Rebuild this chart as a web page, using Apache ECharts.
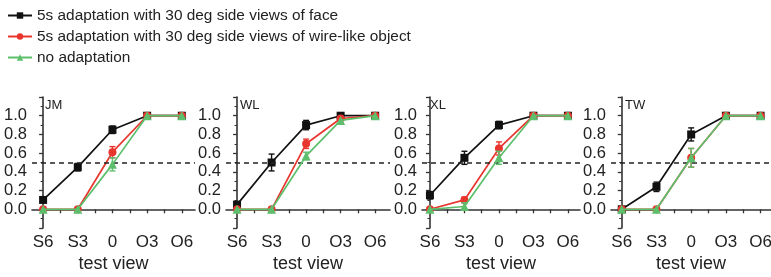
<!DOCTYPE html>
<html>
<head>
<meta charset="utf-8">
<script src="https://cdn.jsdelivr.net/npm/echarts@6/dist/echarts.min.js"></script>
<style>
  html, body { margin: 0; padding: 0; background: #fff; }
  #container { width: 771px; height: 277px; }
</style>
</head>
<body>
<div id="container"></div>
<script>
// test views on the x axis
var views = ['S6', 'S3', '0', 'O3', 'O6'];
var subjects = ['JM', 'WL', 'XL', 'TW'];
var seriesNames = [
    '5s adaptation with 30 deg side views of face',
    '5s adaptation with 30 deg side views of wire-like object',
    'no adaptation'
];

// proportion values per subject
var faceJM = [0.10, 0.45, 0.85, 1.00, 1.00];
var wireJM = [0.00, 0.00, 0.61, 1.00, 1.00];
var noneJM = [0.00, 0.00, 0.48, 1.00, 1.00];
var faceWL = [0.05, 0.50, 0.90, 1.00, 1.00];
var wireWL = [0.00, 0.00, 0.70, 0.97, 1.00];
var noneWL = [0.00, 0.00, 0.57, 0.95, 1.00];
var faceXL = [0.15, 0.55, 0.90, 1.00, 1.00];
var wireXL = [0.00, 0.10, 0.65, 1.00, 1.00];
var noneXL = [0.00, 0.03, 0.55, 1.00, 1.00];
var faceTW = [0.00, 0.24, 0.80, 1.00, 1.00];
var wireTW = [0.00, 0.00, 0.55, 1.00, 1.00];
var noneTW = [0.00, 0.00, 0.55, 1.00, 1.00];

// error bar half-lengths
var faceErrJM = [0.00, 0.04, 0.04, 0.00, 0.00];
var wireErrJM = [0.00, 0.00, 0.06, 0.00, 0.00];
var noneErrJM = [0.00, 0.00, 0.07, 0.00, 0.00];
var faceErrWL = [0.02, 0.09, 0.05, 0.00, 0.00];
var wireErrWL = [0.00, 0.00, 0.05, 0.00, 0.00];
var noneErrWL = [0.00, 0.00, 0.04, 0.00, 0.00];
var faceErrXL = [0.04, 0.07, 0.04, 0.00, 0.00];
var wireErrXL = [0.00, 0.03, 0.07, 0.00, 0.00];
var noneErrXL = [0.00, 0.04, 0.07, 0.00, 0.00];
var faceErrTW = [0.00, 0.05, 0.07, 0.00, 0.00];
var wireErrTW = [0.00, 0.00, 0.10, 0.00, 0.00];
var noneErrTW = [0.00, 0.00, 0.10, 0.00, 0.00];

var values = [
    [faceJM, wireJM, noneJM],
    [faceWL, wireWL, noneWL],
    [faceXL, wireXL, noneXL],
    [faceTW, wireTW, noneTW]
];
var errors = [
    [faceErrJM, wireErrJM, noneErrJM],
    [faceErrWL, wireErrWL, noneErrWL],
    [faceErrXL, wireErrXL, noneErrXL],
    [faceErrTW, wireErrTW, noneErrTW]
];

var colors = ['#111111', '#e8362f', '#5dbf6c'];
var symbols = ['rect', 'circle', 'triangle'];
var font = 'Liberation Sans, Arial, sans-serif';

// panel geometry
var gridLeft = [32, 226, 422, 611];
var gridWidth = [163, 164, 158, 160];
var xMin = [-0.32, -0.32, -0.23, -0.31];
var xMax = [4.38, 4.43, 4.35, 4.3];
var titleOffset = [8, 9, 3, 9];

var grids = [], xAxes = [], yAxes = [], series = [], titles = [];

for (var p = 0; p < subjects.length; p++) {
    grids.push({ left: gridLeft[p], width: gridWidth[p], top: 97, height: 131, outerBoundsMode: 'none' });
    titles.push({
        text: subjects[p],
        left: gridLeft[p] + titleOffset[p], top: 94,
        textStyle: { fontSize: 13, fontWeight: 'normal', color: '#222', fontFamily: font }
    });
    xAxes.push({
        type: 'value', gridIndex: p, min: xMin[p], max: xMax[p],
        name: 'test view', nameLocation: 'middle', nameGap: 27,
        nameTextStyle: { fontSize: 18, color: '#222', fontFamily: font },
        axisLine: { lineStyle: { color: '#333', width: 1.6 } },
        axisTick: { inside: false, length: 4, lineStyle: { color: '#333', width: 1.3 },
                    customValues: [0, 0.5, 1, 1.5, 2, 2.5, 3, 3.5, 4] },
        axisLabel: {
            customValues: [0, 1, 2, 3, 4], margin: 6,
            fontSize: 17, color: '#222', fontFamily: font,
            formatter: function (v) { return views[Math.round(v)]; }
        },
        splitLine: { show: false }
    });
    yAxes.push({
        type: 'value', gridIndex: p, min: -0.2, max: 1.2, interval: 0.2,
        axisLine: { show: true, lineStyle: { color: '#333', width: 1.6 } },
        axisTick: { show: true, length: 4, lineStyle: { color: '#333', width: 1.3 } },
        minorTick: { show: true, splitNumber: 2, length: 2.5, lineStyle: { color: '#333' } },
        axisLabel: {
            margin: 5, fontSize: 16.5, color: '#222', fontFamily: font,
            formatter: function (v) {
                if (v < -0.01 || v > 1.01) return '';
                return v.toFixed(1);
            }
        },
        splitLine: { show: false }
    });

    for (var s = 0; s < 3; s++) {
        var pts = values[p][s].map(function (v, i) { return [i, v]; });
        var line = {
            name: seriesNames[s], type: 'line',
            xAxisIndex: p, yAxisIndex: p,
            data: pts,
            symbol: symbols[s], symbolSize: s == 2 ? 9 : 8,
            color: colors[s],
            lineStyle: { width: 1.7, color: colors[s] },
            itemStyle: { color: colors[s] },
            z: 3 + s,
            animation: false
        };
        if (s == 0) {
            line.markLine = {
                silent: true, symbol: 'none', label: { show: false },
                lineStyle: { color: '#222', type: [5, 4], width: 1.5 },
                data: [{ yAxis: 0.5 }]
            };
        }
        series.push(line);

        var bars = [];
        values[p][s].forEach(function (v, i) {
            var e = errors[p][s][i];
            if (e > 0) bars.push([i, v - e, v + e]);
        });
        series.push({
            type: 'custom', xAxisIndex: p, yAxisIndex: p,
            data: bars, z: 3 + s, animation: false, silent: true,
            renderItem: (function (c) {
                return function (params, api) {
                    var x = api.value(0);
                    var lo = api.coord([x, api.value(1)]);
                    var hi = api.coord([x, api.value(2)]);
                    var w = 3;
                    var st = { stroke: c, lineWidth: 1.4 };
                    return {
                        type: 'group', children: [
                            { type: 'line', shape: { x1: lo[0], y1: lo[1], x2: hi[0], y2: hi[1] }, style: st },
                            { type: 'line', shape: { x1: lo[0] - w, y1: lo[1], x2: lo[0] + w, y2: lo[1] }, style: st },
                            { type: 'line', shape: { x1: hi[0] - w, y1: hi[1], x2: hi[0] + w, y2: hi[1] }, style: st }
                        ]
                    };
                };
            })(colors[s])
        });
    }
}

var myChart = echarts.init(document.getElementById('container'));
var option = {
    backgroundColor: '#ffffff',
    animation: false,
    title: titles,
    legend: {
        data: seriesNames,
        orient: 'vertical', left: 2, top: 3,
        itemWidth: 24, itemHeight: 8, itemGap: 6,
        textStyle: { fontSize: 15.4, color: '#222', fontFamily: font }
    },
    grid: grids,
    xAxis: xAxes,
    yAxis: yAxes,
    series: series
};
myChart.setOption(option);
</script>
</body>
</html>
